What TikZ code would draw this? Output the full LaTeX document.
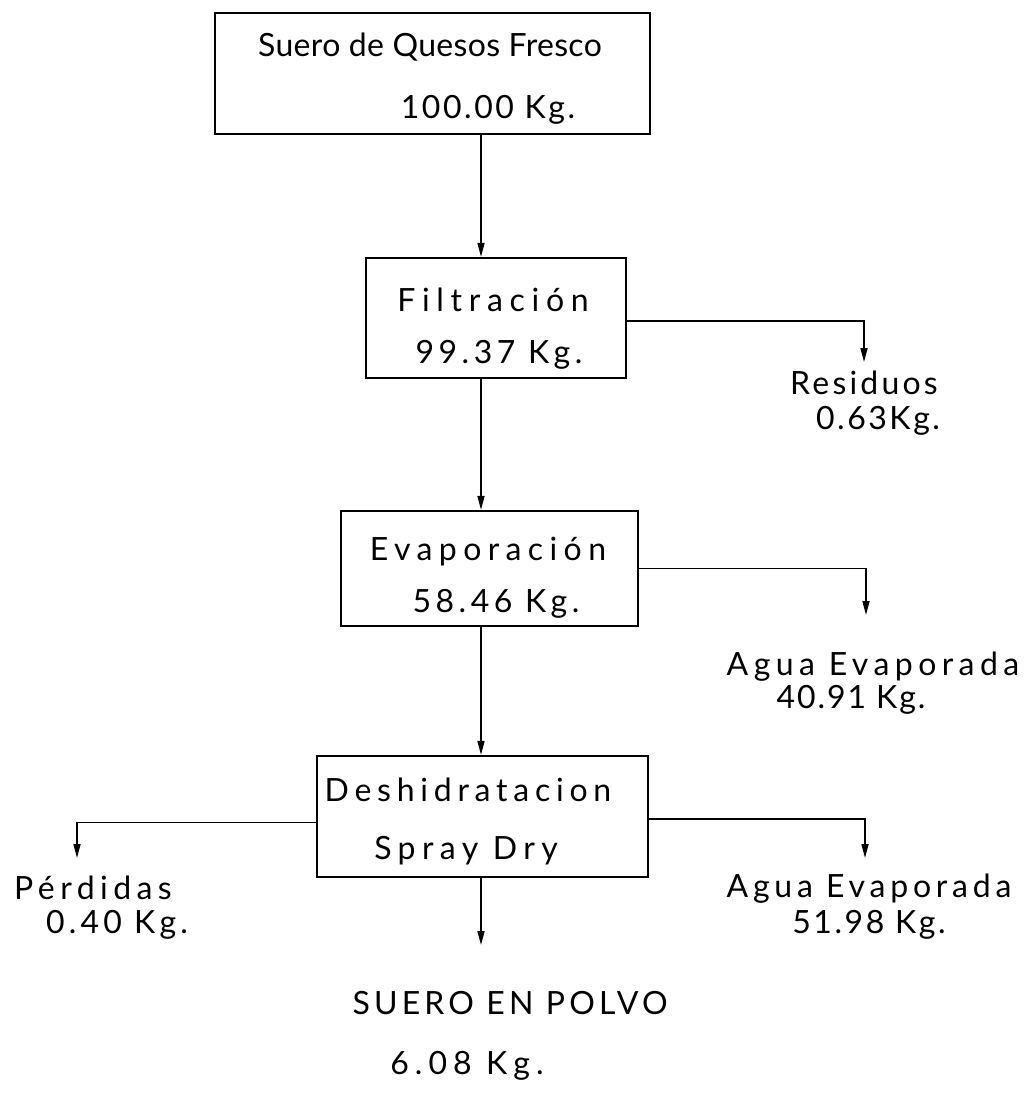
\documentclass[tikz,border=0pt]{standalone}
\usepackage{fontspec}
\setmainfont{Lato}
\usetikzlibrary{arrows.meta}
\begin{document}
\begin{tikzpicture}[x=1pt,y=-1pt,
  box/.style={draw=black,line width=2.2pt,rectangle,inner sep=0pt},
  lbl/.style={inner sep=0pt,font=\fontsize{32}{32}\selectfont\addfontfeature{LetterSpace=#1},text height=23pt,text depth=0pt,anchor=center},
  lbl/.default=0,
  flow/.style={draw=black,line width=1.6pt,-{Triangle[length=14pt,width=7pt]}}]
\useasboundingbox[fill=white] (0,0) rectangle (1030,1107);
% boxes
\node[box,minimum width=435pt,minimum height=121pt] (b1) at (432.5,73.5) {};
\node[box,minimum width=260pt,minimum height=120pt] (b2) at (496,318) {};
\node[box,minimum width=297pt,minimum height=115pt] (b3) at (489.5,568.5) {};
\node[box,minimum width=331pt,minimum height=121pt] (b4) at (482.5,816.5) {};
% texts in boxes
\node[lbl=1] (t1a) at (430,45) {Suero de Quesos Fresco};
\node[lbl=8] (t1b) at (488,107) {100.00 Kg.};
\node[lbl=21] (t2a) at (493,300) {Filtración};
\node[lbl=14] (t2b) at (499,352) {99.37 Kg.};
\node[lbl=20] (t3a) at (488,549) {Evaporación};
\node[lbl=14] (t3b) at (496,601) {58.46 Kg.};
\node[lbl=18] (t4a) at (468,790) {Deshidratacion};
\node[lbl=20] (t4b) at (466,848) {Spray Dry};
% outputs
\node[lbl=10] (r1) at (864,383) {Residuos};
\node[lbl=8] (r2) at (878,418) {0.63Kg.};
\node[lbl=17] (a1) at (873,664) {Agua Evaporada};
\node[lbl=6] (a2) at (851,697) {40.91 Kg.};
\node[lbl=17] (p1) at (93,888) {Pérdidas};
\node[lbl=13] (p2) at (117,922) {0.40 Kg.};
\node[lbl=15] (w1) at (869,886) {Agua Evaporada};
\node[lbl=8] (w2) at (869,922) {51.98 Kg.};
\node[lbl=13] (s1) at (510,1003) {SUERO EN POLVO};
\node[lbl=19] (s2) at (467,1063) {6.08 Kg.};
% connector coordinates
\coordinate (mx) at (481,0);
\coordinate (tipR) at (864,362);
\coordinate (tipA) at (866,615);
\coordinate (tipP) at (77,858);
\coordinate (tipW) at (865,858);
\coordinate (tipS) at (481,945);
% main flow
\draw[flow] (b1.south -| mx) -- (b2.north -| mx);
\draw[flow] (b2.south -| mx) -- (b3.north -| mx);
\draw[flow] (b3.south -| mx) -- (b4.north -| mx);
\draw[flow] (b4.south -| mx) -- (tipS);
% side flows
\draw[flow] ([yshift=-3pt]b2.east) -| (tipR);
\draw[flow] (b3.east) -| (tipA);
\draw[flow] ([yshift=-6pt]b4.west) -| (tipP);
\draw[flow] ([yshift=-2.5pt]b4.east) -| (tipW);
\end{tikzpicture}
\end{document}
